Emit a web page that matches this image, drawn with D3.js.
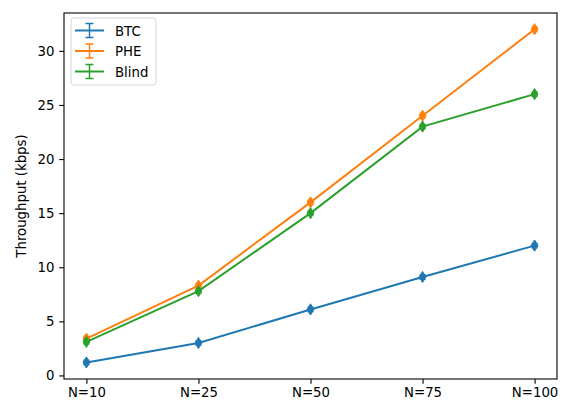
<!DOCTYPE html>
<html>
<head>
<meta charset="utf-8">
<script src="https://cdn.jsdelivr.net/npm/d3@7"></script>
<style>
  body { margin: 0; background: white; }
  text { font-family: "DejaVu Sans", sans-serif; }
</style>
</head>
<body>
<div id="container"></div>
<script>
// data
const categories = ["N=10", "N=25", "N=50", "N=75", "N=100"];
const btc   = [1.2, 3.0, 6.1, 9.1, 12.0];
const phe   = [3.4, 8.3, 16.0, 24.0, 32.0];
const blind = [3.1, 7.8, 15.0, 23.0, 26.0];
const errs  = [0.2, 0.2, 0.2, 0.2, 0.2];
const seriesNames  = ["BTC", "PHE", "Blind"];
const seriesColors = ["#1f77b4", "#ff7f0e", "#2ca02c"];
const yTicks = [0, 5, 10, 15, 20, 25, 30];

const series = [btc, phe, blind].map((vals, i) => ({
  name: seriesNames[i], color: seriesColors[i], values: vals
}));

const width = 563, height = 401;
const mLeft = 64, mRight = 557, mTop = 13, mBottom = 379;
const fs = "13.3px";

const svg = d3.select("#container").append("svg")
  .attr("width", width).attr("height", height);

const x = d3.scaleLinear().domain([-0.2, 4.2]).range([mLeft, mRight]);
const y = d3.scaleLinear().domain([-0.33, 33.5]).range([mBottom, mTop]);

// axes
const xAxis = svg.append("g")
  .attr("transform", `translate(0,${mBottom})`)
  .call(d3.axisBottom(x).tickValues(d3.range(categories.length))
    .tickFormat(i => categories[i]).tickSize(4.8).tickPadding(4));
const yAxis = svg.append("g")
  .attr("transform", `translate(${mLeft},0)`)
  .call(d3.axisLeft(y).tickValues(yTicks).tickSize(4.8).tickPadding(4.8));

[xAxis, yAxis].forEach(a => {
  a.select(".domain").remove();
  a.selectAll("text").style("font-size", fs).attr("fill", "#000");
  a.selectAll("line").attr("stroke", "#000").attr("stroke-width", 1.1);
});

svg.append("text")
  .attr("transform", `translate(26,${(mTop + mBottom) / 2}) rotate(-90)`)
  .attr("text-anchor", "middle")
  .style("font-size", fs)
  .text("Throughput (kbps)");

// series
const line = d3.line().x((d, i) => x(i)).y(d => y(d));
const diamond = "M0,-5.6L3.4,0L0,5.6L-3.4,0Z";

series.forEach(s => {
  const g = svg.append("g");
  g.append("path").datum(s.values)
    .attr("d", line)
    .attr("fill", "none")
    .attr("stroke", s.color)
    .attr("stroke-width", 2);
  // error bars
  g.selectAll(".err").data(s.values).enter().append("path")
    .attr("d", (d, i) => {
      const cx = x(i), y1 = y(d - errs[i]), y2 = y(d + errs[i]);
      return `M${cx},${y1}L${cx},${y2}M${cx - 3},${y1}L${cx + 3},${y1}M${cx - 3},${y2}L${cx + 3},${y2}`;
    })
    .attr("stroke", s.color).attr("stroke-width", 1.5).attr("fill", "none");
  g.selectAll(".mk").data(s.values).enter().append("path")
    .attr("d", diamond)
    .attr("transform", (d, i) => `translate(${x(i)},${y(d)})`)
    .attr("fill", s.color)
    .attr("stroke", s.color).attr("stroke-width", 1);
});

// frame
svg.append("rect")
  .attr("x", mLeft).attr("y", mTop)
  .attr("width", mRight - mLeft).attr("height", mBottom - mTop)
  .attr("fill", "none").attr("stroke", "#000").attr("stroke-width", 1.1);

// legend
const lg = svg.append("g").attr("transform", "translate(71,18)");
lg.append("rect")
  .attr("width", 85).attr("height", 67).attr("rx", 3)
  .attr("fill", "white").attr("fill-opacity", 0.8)
  .attr("stroke", "#d6d6d6").attr("stroke-width", 1);
series.forEach((s, i) => {
  const cy = 12.5 + i * 20.5;
  const e = lg.append("g");
  e.append("line").attr("x1", 4).attr("x2", 33).attr("y1", cy).attr("y2", cy)
    .attr("stroke", s.color).attr("stroke-width", 2);
  e.append("path")
    .attr("d", `M18.5,${cy - 7}L18.5,${cy + 7}M14.5,${cy - 7}L22.5,${cy - 7}M14.5,${cy + 7}L22.5,${cy + 7}`)
    .attr("stroke", s.color).attr("stroke-width", 1.5).attr("fill", "none");
  e.append("text").attr("x", 44).attr("y", cy + 5)
    .style("font-size", fs).text(s.name);
});
</script>
</body>
</html>
